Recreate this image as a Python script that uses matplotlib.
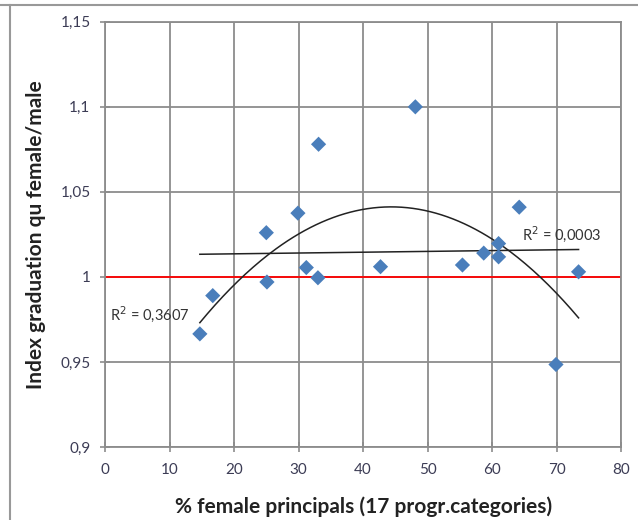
import numpy as np
import matplotlib
matplotlib.use("Agg")
import matplotlib.pyplot as plt
from matplotlib.ticker import FuncFormatter

# % female principals per programme category
pct_female = [14.7, 16.7, 25.1, 25.0, 29.9, 31.2, 33.0, 33.1, 42.7,
              48.1, 55.4, 58.7, 61.0, 61.0, 64.2, 69.9, 73.4]
# graduation index female/male
grad_index = [0.9665, 0.989, 0.997, 1.026, 1.0375, 1.0055, 0.9995, 1.078, 1.006,
              1.100, 1.007, 1.014, 1.0196, 1.0118, 1.041, 0.9485, 1.003]

x_ticks = [0, 10, 20, 30, 40, 50, 60, 70, 80]
y_ticks = [0.9, 0.95, 1.0, 1.05, 1.1, 1.15]

plt.rcParams['font.family'] = ['Lato', 'DejaVu Sans']

fig = plt.figure(figsize=(6.38, 5.2), dpi=100)
ax = fig.add_axes([0.1646, 0.1404, 0.809, 0.8177])

x = np.array(pct_female)
y = np.array(grad_index)

# trendlines like excel: 2nd order polynomial and linear
xs = np.linspace(x.min(), x.max(), 200)
p2 = np.polyfit(x, y, 2)
p1 = np.polyfit(x, y, 1)
ax.plot(xs, np.polyval(p2, xs), color='#222222', lw=1.1, zorder=3)
ax.plot(xs, np.polyval(p1, xs), color='#222222', lw=1.1, zorder=3)

ax.axhline(1.0, color='#ff0000', lw=1.3, zorder=2)

ax.scatter(x, y, marker='D', s=60, color='#4a7ebb', edgecolors='none', zorder=4)

ax.text(0.8, 0.978, 'R$^2$ = 0,3607', fontsize=10.5, color='#333333', ha='left', va='center')
ax.text(64.7, 1.025, 'R$^2$ = 0,0003', fontsize=10.5, color='#333333', ha='left', va='center')

ax.set_xlim(0, 80)
ax.set_ylim(0.9, 1.15)
ax.set_xticks(x_ticks)
ax.set_yticks(y_ticks)
ax.yaxis.set_major_formatter(FuncFormatter(lambda v, pos: ('%g' % round(v, 2)).replace('.', ',')))
ax.grid(True, color='#8c8c8c', lw=1.3)
ax.set_axisbelow(True)
for s in ax.spines.values():
    s.set_color('#8c8c8c')
    s.set_linewidth(1.3)
ax.tick_params(colors='#8c8c8c', direction='inout', length=7, width=1.2, labelsize=11,
               labelcolor='#3c3c55')
ax.tick_params(axis='x', pad=8)
ax.tick_params(axis='y', pad=7)

ax.set_xlabel('% female principals (17 progr.categories)', fontsize=15, fontweight='bold',
              color='#222222', labelpad=14)
ax.set_ylabel('Index graduation qu female/male', fontsize=15, fontweight='bold',
              color='#222222', labelpad=10)

# outer frame lines of the pasted chart
fig.add_artist(plt.Line2D([0, 1], [0.99, 0.99], color='#999999', lw=1.5))
fig.add_artist(plt.Line2D([0.016, 0.016], [0, 0.99], color='#999999', lw=1.5))

fig.savefig('out.png', dpi=100)
